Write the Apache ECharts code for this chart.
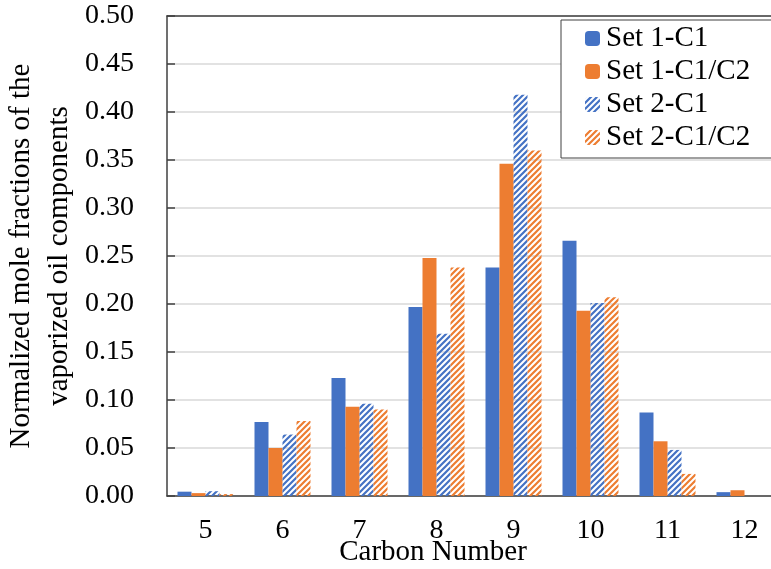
<!DOCTYPE html>
<html><head><meta charset="utf-8">
<script src="https://cdn.jsdelivr.net/npm/echarts@6/dist/echarts.min.js"></script>
<style>html,body{margin:0;padding:0;background:#fff;overflow:hidden}#c{width:783px;height:569px}</style>
</head><body><div id="c"></div>
<script>
var categories = ['5','6','7','8','9','10','11','12'];
var seriesNames = ['Set 1-C1','Set 1-C1/C2','Set 2-C1','Set 2-C1/C2'];
var set1C1   = [0.0045, 0.077, 0.123, 0.197, 0.238, 0.266, 0.087, 0.004];
var set1C1C2 = [0.003, 0.050, 0.093, 0.248, 0.346, 0.193, 0.057, 0.006];
var set2C1   = [0.005, 0.064, 0.096, 0.169, 0.418, 0.201, 0.048, 0];
var set2C1C2 = [0.002, 0.078, 0.090, 0.238, 0.360, 0.207, 0.023, 0];
var yTicks = {min: 0, max: 0.5, interval: 0.05};

var BLUE = '#4472C4', ORANGE = '#ED7D31';
function hatch(color){
  var s = 6, c = document.createElement('canvas');
  c.width = s; c.height = s;
  var g = c.getContext('2d');
  g.strokeStyle = color; g.lineWidth = 2.2; g.lineCap = 'square';
  g.beginPath();
  g.moveTo(0, s); g.lineTo(s, 0);
  g.moveTo(-s/2, s/2); g.lineTo(s/2, -s/2);
  g.moveTo(s/2, s*1.5); g.lineTo(s*1.5, s/2);
  g.stroke();
  return {image: c, repeat: 'repeat'};
}
var FONT = 'Liberation Serif';
var chart = echarts.init(document.getElementById('c'), null, {renderer: 'canvas'});
function bar(name, data, color){
  return {name: name, type: 'bar', data: data, barWidth: 14, barGap: '0%',
    xAxisIndex: 0, yAxisIndex: 0, itemStyle: {color: color}};
}
chart.setOption({
  animation: false,
  grid: {left: 167, top: 16, right: 0, bottom: 73, containLabel: false},
  legend: {
    orient: 'vertical', left: 561, top: 20,
    padding: [4, 200, 6, 24],
    backgroundColor: '#fff', borderColor: '#404040', borderWidth: 1,
    itemWidth: 15, itemHeight: 15, itemGap: 4,
    textStyle: {fontFamily: FONT, fontSize: 29, color: '#000', padding: [0,0,0,1]},
    data: seriesNames
  },
  xAxis: [{
    type: 'category', data: categories,
    axisLine: {show: true, lineStyle: {color: '#404040', width: 1.5}},
    axisTick: {show: false},
    axisLabel: {fontFamily: FONT, fontSize: 28, color: '#000', margin: 21},
    splitLine: {show: false}
  }, {
    type: 'category', data: categories, position: 'top',
    axisLine: {show: true, lineStyle: {color: '#404040', width: 1.5}},
    axisTick: {show: false}, axisLabel: {show: false}, splitLine: {show: false}
  }],
  yAxis: {
    type: 'value', min: yTicks.min, max: yTicks.max, interval: yTicks.interval,
    axisLine: {show: true, lineStyle: {color: '#404040', width: 1.5}},
    axisTick: {show: true, inside: true, length: 8, lineStyle: {color: '#404040', width: 1.5}},
    axisLabel: {fontFamily: FONT, fontSize: 28, color: '#000', margin: 33,
      formatter: function(v){ return v.toFixed(2); }},
    splitLine: {show: true, lineStyle: {color: '#d9d9d9', width: 1.5}}
  },
  graphic: [{
    type: 'text', x: 40, y: 256, rotation: Math.PI/2,
    style: {text: 'Normalized mole fractions of the\nvaporized oil components',
      font: '29px "Liberation Serif"', fill: '#000', align: 'center', verticalAlign: 'middle', lineHeight: 38}
  }, {
    type: 'text', x: 433, y: 552,
    style: {text: 'Carbon Number', font: '29px "Liberation Serif"', fill: '#000', align: 'center', verticalAlign: 'middle'}
  }],
  series: [
    bar(seriesNames[0], set1C1, BLUE),
    bar(seriesNames[1], set1C1C2, ORANGE),
    bar(seriesNames[2], set2C1, hatch(BLUE)),
    bar(seriesNames[3], set2C1C2, hatch(ORANGE))
  ]
});
</script></body></html>
